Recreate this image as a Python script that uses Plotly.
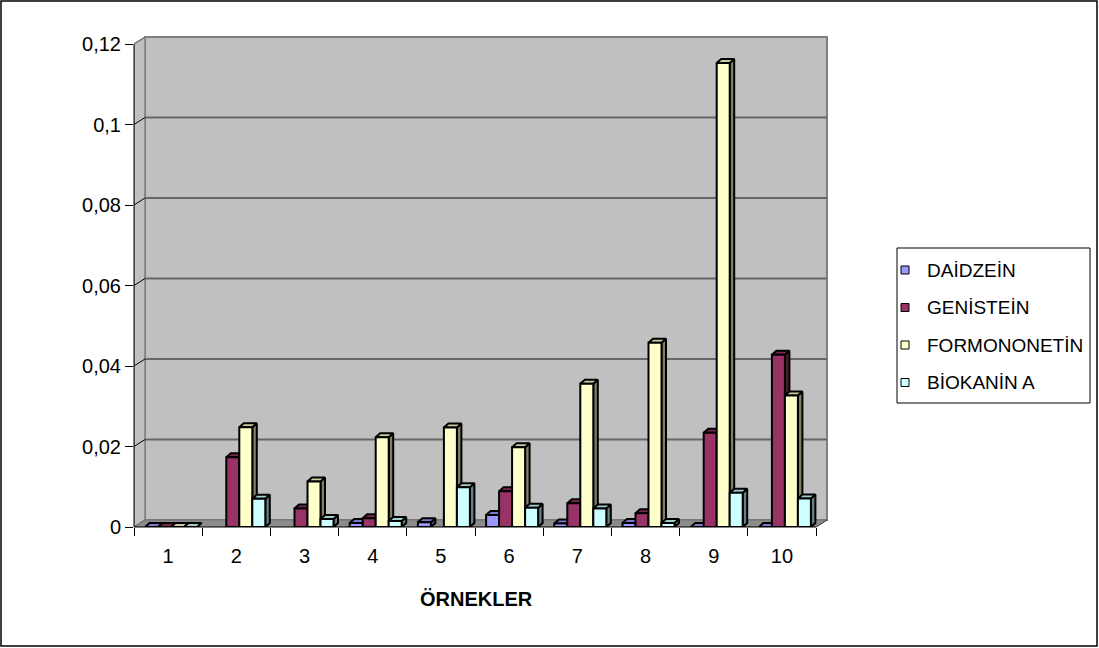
import plotly.graph_objects as go

# ---- data -------------------------------------------------------------
samples = [str(i) for i in range(1, 11)]
compounds = ["DAİDZEİN", "GENİSTEİN", "FORMONONETİN", "BİOKANİN A"]

daidzein = [0, None, None, 0.0010, 0.0012, 0.0030, 0.0009, 0.0010, 0, 0]
genistein = [0, 0.0173, 0.0046, 0.0022, None, 0.0089, 0.0059, 0.0034, 0.0234, 0.0428]
formononetin = [0, 0.0248, 0.0113, 0.0223, 0.0247, 0.0198, 0.0356, 0.0458, 0.1153, 0.0327]
biokanin_a = [0, 0.0070, 0.0020, 0.0015, 0.0099, 0.0048, 0.0046, 0.0010, 0.0085, 0.0071]

y_ticks = [0, 0.02, 0.04, 0.06, 0.08, 0.10, 0.12]
y_tick_labels = ["0", "0,02", "0,04", "0,06", "0,08", "0,1", "0,12"]
x_title = "ÖRNEKLER"

series = [daidzein, genistein, formononetin, biokanin_a]
face_colors = ["#9999FF", "#993366", "#FFFFCC", "#CCFFFF"]

FONT = "Liberation Sans, Arial, sans-serif"

# ---- geometry of the plotting box (pixels) ----------------------------
W, H = 1099, 648
L, R, T, B = 134, 834, 28, 527
SX = 68.2          # pixels per category
SY = 4025.0        # pixels per value unit
x_range = [0.5, 0.5 + (R - L) / SX]
y_range = [0, (B - T) / SY]

# oblique depth of the walls and of the columns
wall_dx, wall_dy = 11 / SX, 7 / SY
bar_w = 13 / SX
bar_dx, bar_dy = 4.5 / SX, 4 / SY
cluster_shift = 3 / SX
y_top = y_ticks[-1]
x_lo, x_hi = 0.5, len(samples) + 0.5


def px_of(x):
    return L + (x - x_range[0]) * SX


def py_of(y):
    return B - y * SY


def paper_x(px):
    return (px - L) / (R - L)


def paper_y(py):
    return (B - py) / (B - T)


def shade(hex_color, f):
    h = hex_color.lstrip("#")
    r, g, b = (int(h[i:i + 2], 16) for i in (0, 2, 4))
    return "rgb({},{},{})".format(int(r * f), int(g * f), int(b * f))


def path(points):
    return "M " + " L ".join("{},{}".format(x, y) for x, y in points) + " Z"


fig = go.Figure()
shapes = []

# ---- walls and floor ---------------------------------------------------
wall_grey = "#C0C0C0"
edge_grey = "#808080"
shapes.append(dict(type="path", xref="x", yref="y", layer="below",
                   path=path([(x_lo + wall_dx, wall_dy), (x_hi + wall_dx, wall_dy),
                              (x_hi + wall_dx, y_top + wall_dy), (x_lo + wall_dx, y_top + wall_dy)]),
                   fillcolor=wall_grey, line=dict(color=edge_grey, width=2)))
shapes.append(dict(type="path", xref="x", yref="y", layer="below",
                   path=path([(x_lo, 0), (x_lo + wall_dx, wall_dy),
                              (x_lo + wall_dx, y_top + wall_dy), (x_lo, y_top)]),
                   fillcolor=wall_grey, line=dict(color=edge_grey, width=1.5)))
shapes.append(dict(type="path", xref="x", yref="y", layer="below",
                   path=path([(x_lo, 0), (x_hi, 0), (x_hi + wall_dx, wall_dy), (x_lo + wall_dx, wall_dy)]),
                   fillcolor="#8C8C8C", line=dict(color="#707070", width=1)))
# gridlines on the back wall
for v in y_ticks[1:-1]:
    shapes.append(dict(type="line", xref="x", yref="y", layer="below",
                       x0=x_lo + wall_dx, x1=x_hi + wall_dx, y0=v + wall_dy, y1=v + wall_dy,
                       line=dict(color="#666666", width=2)))

# ---- 3-D columns ------------------------------------------------------
def add_poly(points, color):
    xs = [p[0] for p in points] + [points[0][0]]
    ys = [p[1] for p in points] + [points[0][1]]
    fig.add_trace(go.Scatter(x=xs, y=ys, mode="lines", fill="toself", fillcolor=color,
                             line=dict(color="black", width=2), hoverinfo="skip",
                             showlegend=False))


for g in range(len(samples)):
    start = (g + 1) - 2 * bar_w + cluster_shift
    for k, vals in enumerate(series):
        v = vals[g]
        if v is None:
            continue
        x0 = start + k * bar_w
        x1 = x0 + bar_w
        col = face_colors[k]
        if v > 0:
            add_poly([(x1, 0), (x1 + bar_dx, bar_dy), (x1 + bar_dx, v + bar_dy), (x1, v)],
                     shade(col, 0.5))
        add_poly([(x0, v), (x1, v), (x1 + bar_dx, v + bar_dy), (x0 + bar_dx, v + bar_dy)],
                 shade(col, 0.8))
        if v > 0:
            add_poly([(x0, 0), (x1, 0), (x1, v), (x0, v)], col)

# ---- axis lines (drawn in paper space so they are not clipped) ---------
shapes.append(dict(type="line", xref="paper", yref="paper", layer="above",
                   x0=paper_x(px_of(x_lo)), x1=paper_x(px_of(x_lo)),
                   y0=paper_y(py_of(0)), y1=paper_y(py_of(y_top)),
                   line=dict(color="black", width=1)))
shapes.append(dict(type="line", xref="paper", yref="paper", layer="above",
                   x0=paper_x(px_of(x_lo)), x1=paper_x(px_of(x_hi)),
                   y0=paper_y(py_of(0)), y1=paper_y(py_of(0)),
                   line=dict(color="black", width=1)))
shapes.append(dict(type="line", xref="paper", yref="paper", layer="above",
                   x0=paper_x(px_of(x_hi)), x1=paper_x(px_of(x_hi + wall_dx)),
                   y0=paper_y(py_of(0)), y1=paper_y(py_of(wall_dy)),
                   line=dict(color="#404040", width=1)))
# small connectors from the value axis to the back-wall gridlines
for v in y_ticks[1:]:
    shapes.append(dict(type="line", xref="paper", yref="paper", layer="above",
                       x0=paper_x(px_of(x_lo)), x1=paper_x(px_of(x_lo + wall_dx)),
                       y0=paper_y(py_of(v)), y1=paper_y(py_of(v + wall_dy)),
                       line=dict(color="black" if v < y_top else edge_grey, width=1)))

# ---- legend box -------------------------------------------------------
lg_x0, lg_x1, lg_y0, lg_y1 = 897, 1090, 248, 403
shapes.append(dict(type="rect", xref="paper", yref="paper",
                   x0=paper_x(lg_x0), x1=paper_x(lg_x1), y0=paper_y(lg_y1), y1=paper_y(lg_y0),
                   line=dict(color="black", width=1), fillcolor="white"))
annotations = []
for k, name in enumerate(compounds):
    cy = 270 + 37.5 * k
    shapes.append(dict(type="rect", xref="paper", yref="paper",
                       x0=paper_x(901), x1=paper_x(909), y0=paper_y(cy + 4), y1=paper_y(cy - 4),
                       fillcolor=face_colors[k], line=dict(color="black", width=1)))
    annotations.append(dict(x=paper_x(925), y=paper_y(cy), xref="paper", yref="paper",
                            text=name, showarrow=False, xanchor="left", yanchor="middle",
                            font=dict(family=FONT, size=19, color="black")))

# axis title
annotations.append(dict(x=paper_x(476), y=paper_y(599), xref="paper", yref="paper",
                        text="<b>" + x_title + "</b>", showarrow=False,
                        xanchor="center", yanchor="middle",
                        font=dict(family=FONT, size=20, color="black")))

# outer frame of the chart
shapes.append(dict(type="rect", xref="paper", yref="paper",
                   x0=paper_x(1), x1=paper_x(W - 2), y0=paper_y(H - 2), y1=paper_y(1),
                   line=dict(color="black", width=1.5)))

fig.update_layout(
    width=W, height=H,
    margin=dict(l=L, r=W - R, t=T, b=H - B, pad=0),
    paper_bgcolor="white", plot_bgcolor="white",
    showlegend=False,
    shapes=shapes, annotations=annotations,
    font=dict(family=FONT, size=20, color="black"),
    xaxis=dict(range=x_range, showgrid=False, zeroline=False, showline=False,
               tickmode="array", tickvals=list(range(1, len(samples) + 1)), ticktext=samples,
               ticks="", ticklabelstandoff=15,
               tickfont=dict(family=FONT, size=20, color="black"),
               minor=dict(tickmode="array",
                          tickvals=[i + 0.5 for i in range(len(samples) + 1)],
                          ticks="outside", ticklen=8, tickcolor="black", tickwidth=1,
                          showgrid=False)),
    yaxis=dict(range=y_range, showgrid=False, zeroline=False, showline=False,
               tickmode="array", tickvals=y_ticks, ticktext=y_tick_labels,
               ticks="outside", ticklen=8, tickcolor="black", tickwidth=1,
               tickfont=dict(family=FONT, size=20, color="black")),
)

fig.write_html("out.html")
